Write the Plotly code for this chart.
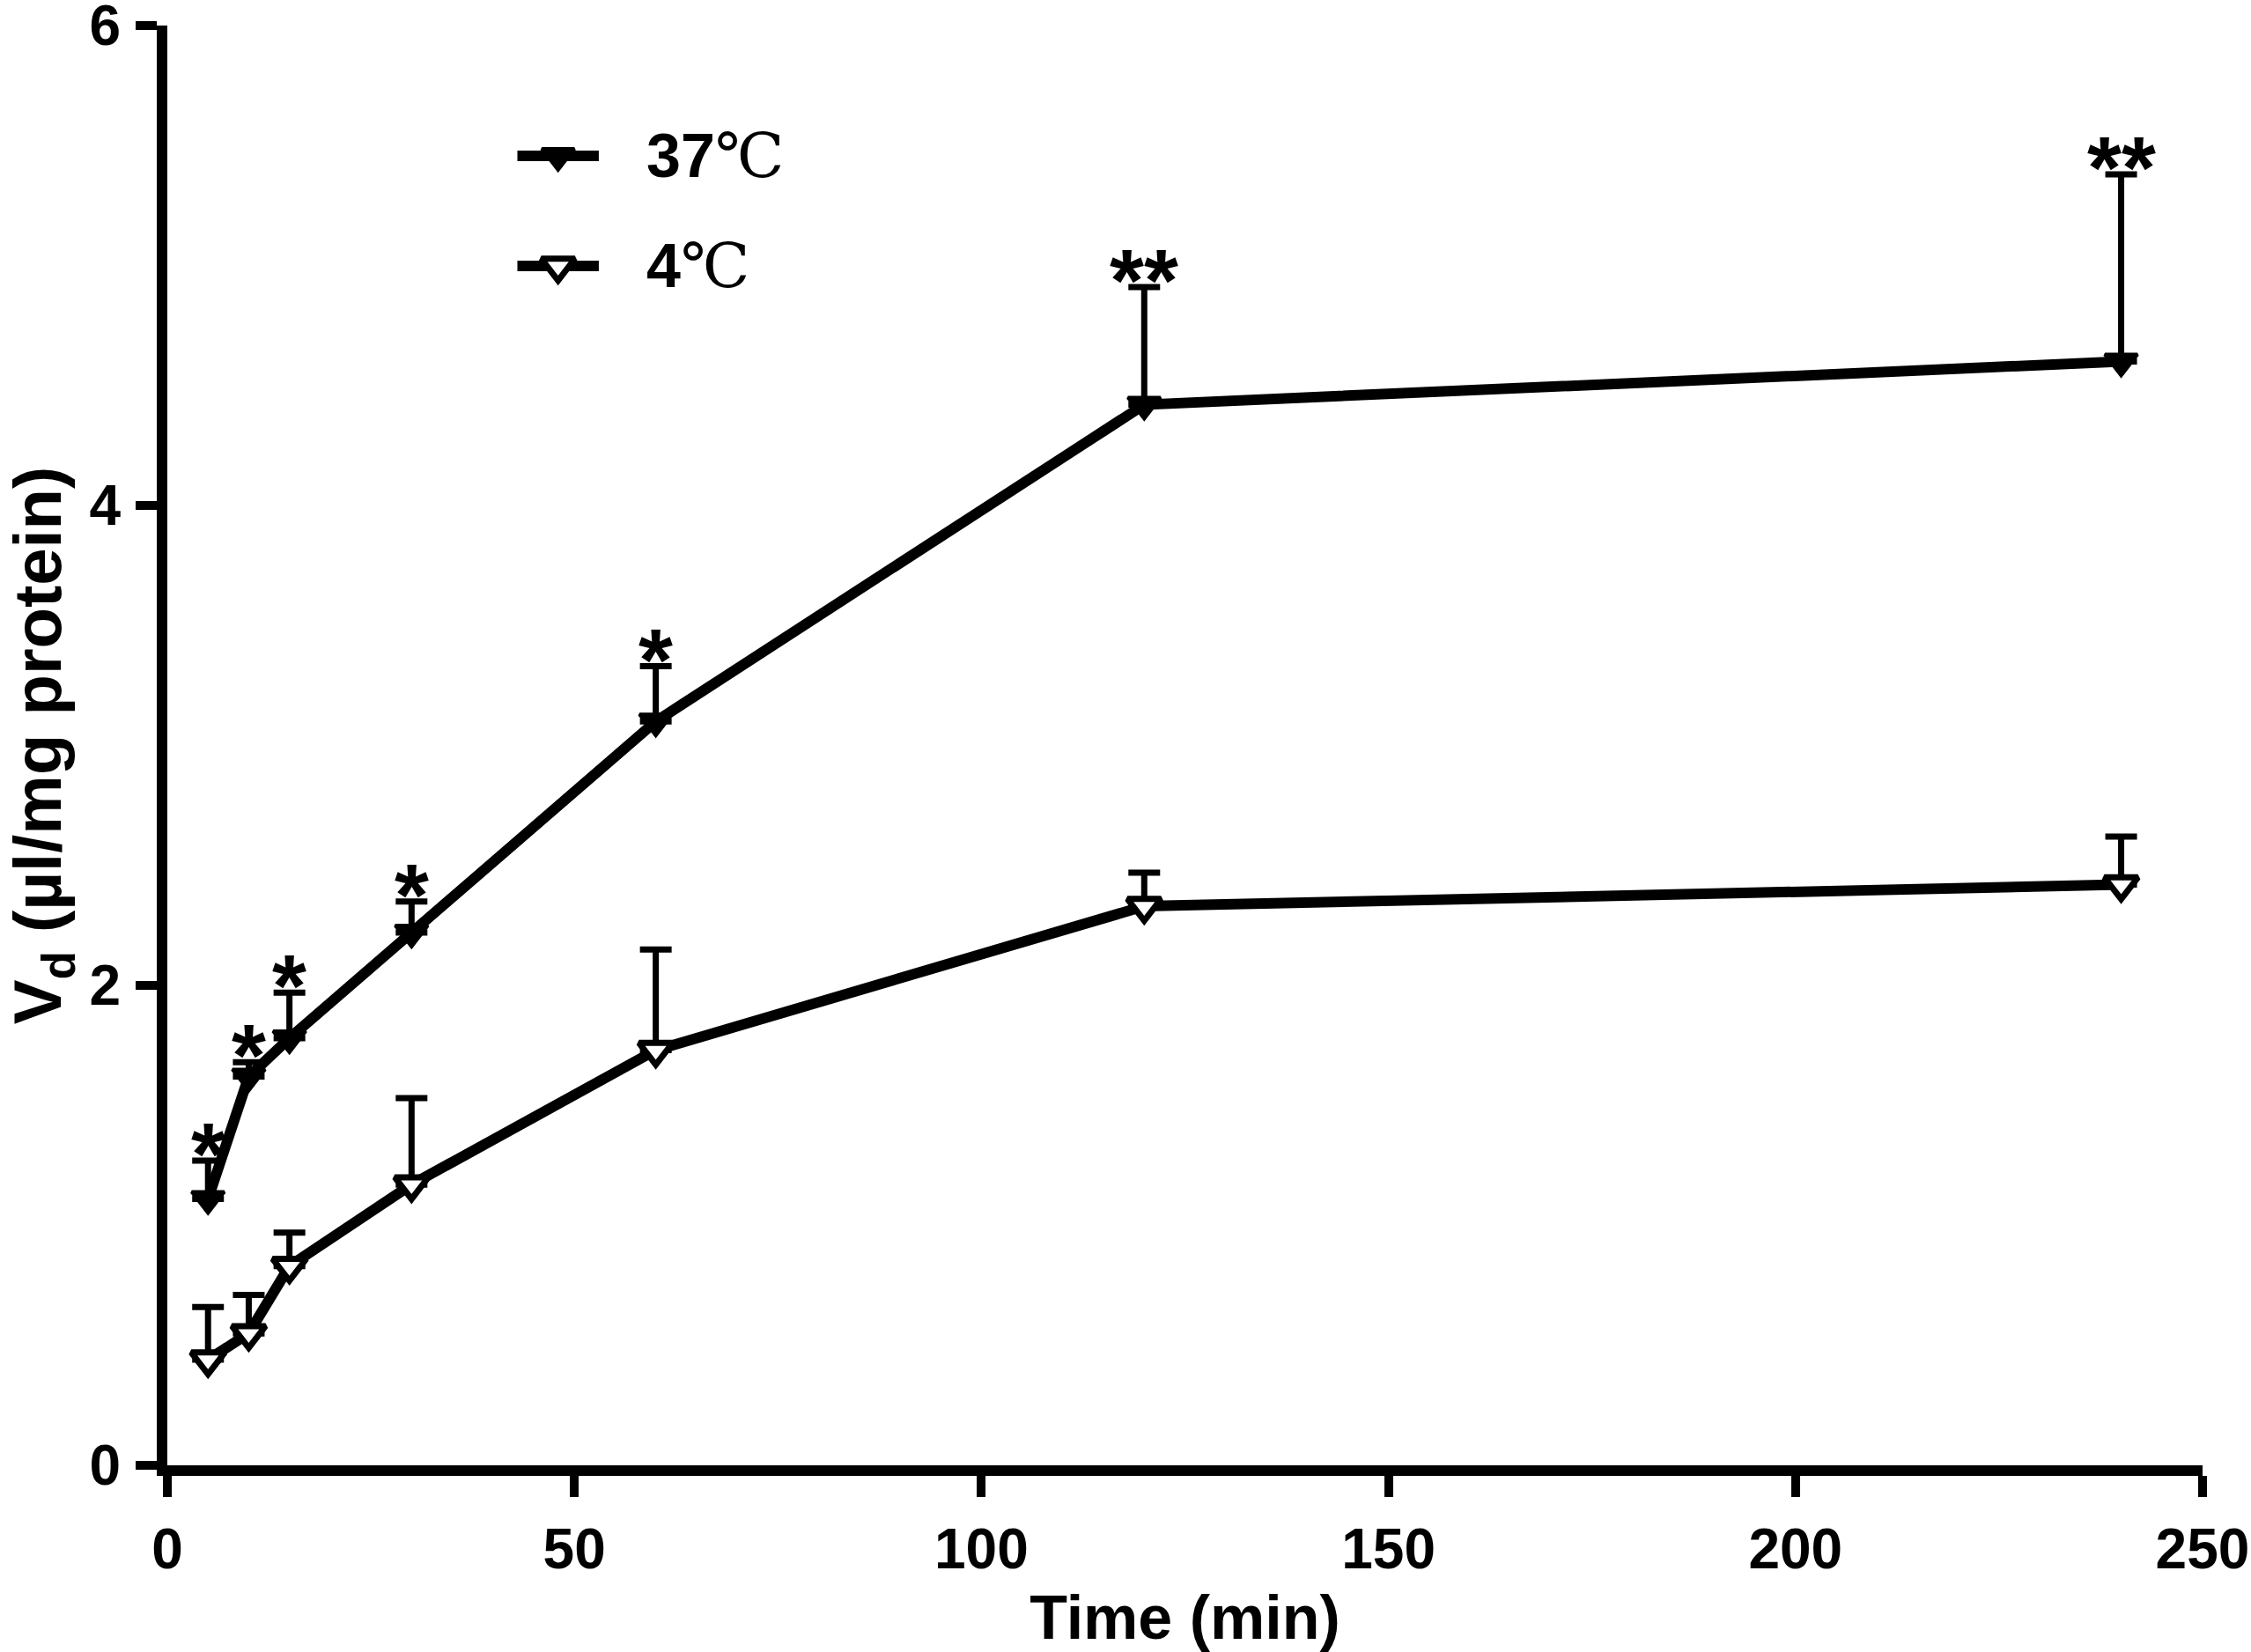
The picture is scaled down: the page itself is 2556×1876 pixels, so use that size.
import plotly.graph_objects as go

# time points (min)
time = [5, 10, 15, 30, 60, 120, 240]

# Vd at 37 C and its upper error (SD)
vd_37 = [1.11, 1.62, 1.78, 2.22, 3.10, 4.42, 4.60]
err_37 = [0.16, 0.06, 0.19, 0.13, 0.23, 0.49, 0.78]
stars_37 = ["*", "*", "*", "*", "*", "**", "**"]

# Vd at 4 C and its upper error (SD)
vd_4 = [0.44, 0.55, 0.83, 1.17, 1.73, 2.33, 2.42]
err_4 = [0.22, 0.16, 0.14, 0.36, 0.42, 0.14, 0.20]

x_ticks = [0, 50, 100, 150, 200, 250]
y_ticks = [0, 2, 4, 6]

deg = "<span style='font-family:\"DejaVu Serif\", \"Liberation Serif\"; font-weight:normal'>℃</span>"
labels = ["<b>37</b>" + deg, "<b>4</b>" + deg]

LINE_W = 12
marker_37 = dict(symbol="triangle-down", size=32, color="black",
                 line=dict(color="black", width=4))
marker_4 = dict(symbol="triangle-down", size=33, color="white",
                line=dict(color="black", width=7))

fig = go.Figure()

fig.add_trace(go.Scatter(
    x=time, y=vd_4, mode="lines+markers", showlegend=False,
    line=dict(color="black", width=LINE_W), marker=marker_4,
    error_y=dict(type="data", symmetric=False, array=err_4,
                 arrayminus=[0] * len(err_4), color="black",
                 thickness=7, width=18),
    cliponaxis=False,
))

fig.add_trace(go.Scatter(
    x=time, y=vd_37, mode="lines+markers", showlegend=False,
    line=dict(color="black", width=LINE_W), marker=marker_37,
    error_y=dict(type="data", symmetric=False, array=err_37,
                 arrayminus=[0] * len(err_37), color="black",
                 thickness=7, width=18),
    cliponaxis=False,
))

# significance stars above the 37 C error bars
for t, v, e, s in zip(time, vd_37, err_37, stars_37):
    fig.add_annotation(x=t, y=v + e, text="<b>" + s + "</b>", showarrow=False,
                       yanchor="bottom", yshift=-50,
                       font=dict(family="Liberation Sans", size=100, color="black"))

# legend drawn on a hidden overlay axis so the samples keep full size
leg_y = [0.9095, 0.833]
for yy, lab, mk in zip(leg_y, labels, [marker_37, marker_4]):
    fig.add_trace(go.Scatter(
        x=[0.172, 0.212], y=[yy, yy], mode="lines", xaxis="x2", yaxis="y2",
        line=dict(color="black", width=12), showlegend=False, hoverinfo="skip",
        cliponaxis=False,
    ))
    fig.add_trace(go.Scatter(
        x=[0.192], y=[yy], mode="markers", xaxis="x2", yaxis="y2",
        marker=mk, showlegend=False, hoverinfo="skip", cliponaxis=False,
    ))
    fig.add_annotation(x=0.2345, y=yy, xref="x2", yref="y2", text=lab,
                       showarrow=False, xanchor="left", yanchor="middle",
                       font=dict(family="Liberation Sans", size=70, color="black"))

axis_style = dict(
    showline=True, linecolor="black", linewidth=12,
    ticks="outside", ticklen=24, tickwidth=10, tickcolor="black",
    showgrid=False, zeroline=False, ticklabeloverflow="allow", automargin=False,
    tickfont=dict(family="Liberation Sans", size=64, color="black", weight="bold"),
)

fig.update_xaxes(range=[0, 250], tickvals=x_ticks, ticklabelstandoff=4,
                 title=dict(text="<b>Time (min)</b>", standoff=25,
                            font=dict(family="Liberation Sans", size=70, color="black")),
                 **axis_style)
fig.update_yaxes(range=[0, 6], tickvals=y_ticks, ticklabelstandoff=4,
                 title=dict(text="<b>V<sub>d</sub> (µl/mg protein)</b>", standoff=30,
                            font=dict(family="Liberation Sans", size=76, color="black")),
                 **axis_style)

fig.update_layout(
    width=2556, height=1876,
    margin=dict(l=190, r=55, t=29, b=212),
    plot_bgcolor="white", paper_bgcolor="white",
    xaxis2=dict(overlaying="x", range=[0, 1], visible=False),
    yaxis2=dict(overlaying="y", range=[0, 1], visible=False),
    showlegend=False,
)

# drop the default body margin so the figure fills the window exactly
fig.write_html("out.html", config={"displayModeBar": False},
               post_script="document.body.style.margin = '0px';")
